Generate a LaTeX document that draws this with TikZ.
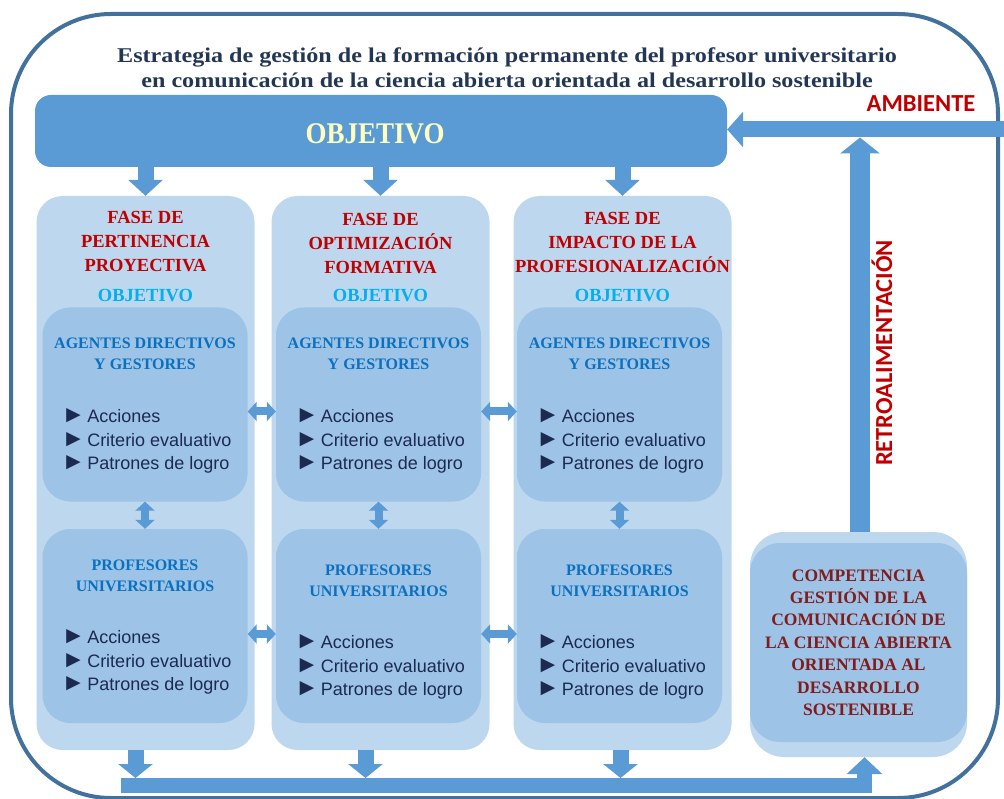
\documentclass[tikz,border=0pt]{standalone}
\usepackage{fontspec}
\setmainfont{Liberation Serif}
\setsansfont{Liberation Sans}
\newfontfamily\calib{Carlito}
\newfontfamily\titfont[FakeStretch=1.15]{Liberation Serif}
\newfontfamily\objfont[FakeStretch=0.9]{Liberation Serif}
\usetikzlibrary{arrows.meta,positioning}

\definecolor{marco}{RGB}{65,113,156}
\definecolor{azul}{RGB}{91,155,213}
\definecolor{celeste}{RGB}{189,215,238}
\definecolor{medio}{RGB}{157,195,230}
\definecolor{rojo}{RGB}{192,0,0}
\definecolor{granate}{RGB}{128,28,28}
\definecolor{cian}{RGB}{0,176,240}
\definecolor{azulrey}{RGB}{10,112,192}
\definecolor{marino}{RGB}{28,42,80}
\definecolor{titulo}{RGB}{35,55,85}
\definecolor{crema}{RGB}{255,255,190}

\newcommand{\vin}{{\fontsize{24}{0}\selectfont ►}\hspace{2pt}}

\begin{document}
\begin{tikzpicture}[x=1pt,y=-1pt,
        fase/.style={fill=celeste, rounded corners=26pt, minimum width=218pt, minimum height=554pt, inner sep=0pt},
        bloque/.style={fill=medio, rounded corners=28pt, minimum width=205pt, minimum height=194pt, inner sep=0pt},
        faselbl/.style={text=rojo, font=\bfseries\fontsize{18.5}{24}\selectfont, align=center},
        objlbl/.style={text=cian, font=\bfseries\fontsize{18.5}{22}\selectfont},
        actor/.style={text=azulrey, font=\bfseries\fontsize{16}{21}\selectfont, align=center},
        lista/.style={text=marino, font=\sffamily\fontsize{18}{23.5}\selectfont, align=left, anchor=west, inner sep=0pt},
        grueso/.style={draw=azul, line width=16pt, -{Triangle[width=34pt,length=16pt]}},
        doble/.style={draw=azul, line width=8pt, {Triangle[width=19pt,length=9pt]}-{Triangle[width=19pt,length=9pt]}},
        ]
        \useasboundingbox (0,0) rectangle (1004,799);
        \draw[marco, line width=4pt, rounded corners=100pt] (11,14) rectangle (998,798);

        \node[text=titulo, font=\titfont\bfseries\fontsize{21}{25}\selectfont, align=center] (titulo) at (507,67.5)
            {Estrategia de gestión de la formación permanente del profesor universitario\\
             en comunicación de la ciencia abierta orientada al desarrollo sostenible};

        \node[fill=azul, rounded corners=16pt, minimum width=692pt, minimum height=72pt] (obj) at (381,131) {};
        \node[text=crema, font=\objfont\bfseries\fontsize{30}{30}\selectfont] (objtxt) at (375,134) {OBJETIVO};

        % columnas de fases
        \foreach \i/\cx/\ix/\ly in {1/145.5/145/662, 2/380.5/378.5/667, 3/622.5/619.5/667} {
            \node[fase] (fase\i) at (\cx,473) {};
            \node[bloque] (agentes\i) at (\ix,404.5) {};
            \node[bloque] (profes\i) at (\ix,626) {};
            \node[objlbl] (objf\i) at (\cx,296) {OBJETIVO};
            \node[actor] (agtxt\i) at (\ix,354) {AGENTES DIRECTIVOS\\Y GESTORES};
            \node[actor] (prtxt\i) at (\ix,\ly-86) {PROFESORES\\UNIVERSITARIOS};
            \node[lista] (agl\i) at ([xshift=19pt]agentes\i.west |- 0,441)
                {\vin Acciones\\\vin Criterio evaluativo\\\vin Patrones de logro};
            \node[lista] (prl\i) at ([xshift=19pt]profes\i.west |- 0,\ly)
                {\vin Acciones\\\vin Criterio evaluativo\\\vin Patrones de logro};
            \draw[doble] (agentes\i) -- (profes\i);
            \draw[grueso] (obj.south -| fase\i) -- (fase\i.north);
        }
        \node[faselbl] (f1) at (145.5,242) {FASE DE\\PERTINENCIA\\PROYECTIVA};
        \node[faselbl] (f2) at (380.5,244) {FASE DE\\OPTIMIZACIÓN\\FORMATIVA};
        \node[faselbl] (f3) at (622.5,242) {FASE DE\\IMPACTO DE LA\\PROFESIONALIZACIÓN};

        \draw[doble] ([yshift=-7pt]agentes1.east) -- ([yshift=-7pt]agentes2.west);
        \draw[doble] ([yshift=-7pt]agentes2.east) -- ([yshift=-7pt]agentes3.west);
        \draw[doble] ([yshift=-8pt]profes1.east) -- ([yshift=-8pt]profes2.west);
        \draw[doble] ([yshift=-8pt]profes2.east) -- ([yshift=-8pt]profes3.west);

        % competencia
        \node[fill=celeste, rounded corners=34pt, minimum width=217pt, minimum height=225pt] (comp) at (858.5,644.5) {};
        \node[fill=medio, rounded corners=30pt, minimum width=217pt, minimum height=199pt,
              text=granate, font=\bfseries\fontsize{17.5}{22.4}\selectfont, align=center] (comptxt) at (858.5,642.5)
            {COMPETENCIA\\GESTIÓN DE LA\\COMUNICACIÓN DE\\LA CIENCIA ABIERTA\\ORIENTADA AL\\DESARROLLO\\SOSTENIBLE};

        % ambiente y retroalimentacion
        \coordinate (amb) at (1004,129.5);
        \coordinate (ambbase) at (860,137.5);
        \draw[grueso, -{Triangle[width=35pt,length=16pt]}] (amb) -- (amb -| obj.east);
        \draw[grueso, line width=20pt, -{Triangle[width=39pt,length=16pt]}] (comp.north -| ambbase) -- (ambbase);
        \node[text=rojo, font=\calib\bfseries\fontsize{24.5}{24.5}\selectfont] (ambtxt) at (921,104) {AMBIENTE};
        \node[text=rojo, font=\calib\bfseries\fontsize{24.5}{24.5}\selectfont, rotate=90] (retro) at (882,353) {RETROALIMENTACIÓN};

        % salida inferior
        \coordinate (barra) at (121,785.5);
        \draw[grueso, -{Triangle[width=34pt,length=14pt]}] ([xshift=-10pt]fase1.south) -- ([xshift=-10pt]fase1.south |- 0,778);
        \draw[grueso, -{Triangle[width=34pt,length=14pt]}] ([xshift=-15pt]fase2.south) -- ([xshift=-15pt]fase2.south |- 0,778);
        \draw[grueso, -{Triangle[width=34pt,length=14pt]}] ([xshift=-2pt]fase3.south) -- ([xshift=-2pt]fase3.south |- 0,778);
        \draw[grueso, line width=15pt, -{Triangle[width=35pt,length=17pt]}] (barra) -| ([xshift=6pt]comp.south);
    \end{tikzpicture}
\end{document}
